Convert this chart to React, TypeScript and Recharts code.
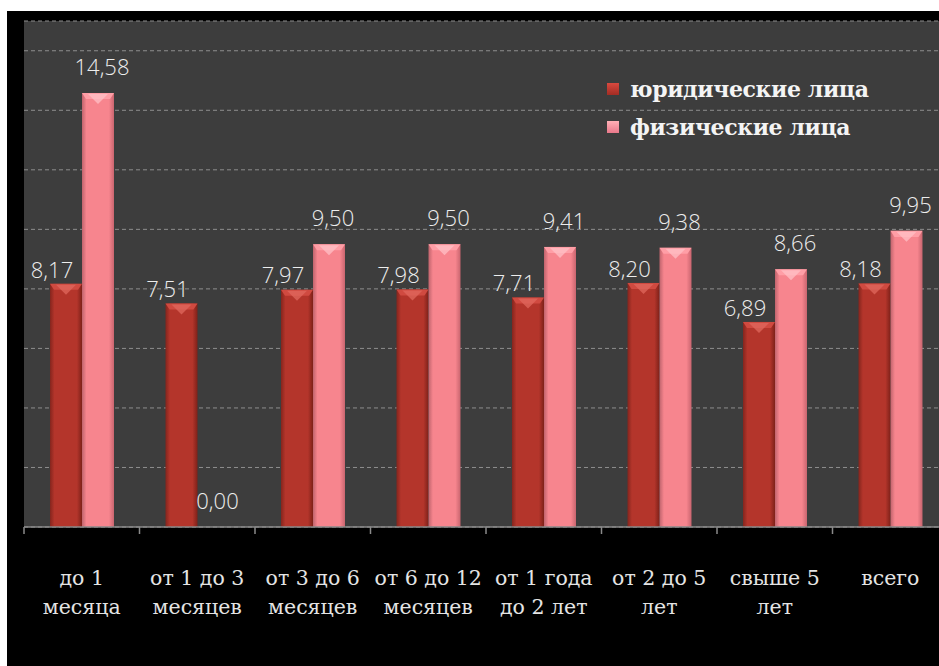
import React from 'react';
import { BarChart, Bar, XAxis, YAxis, CartesianGrid, LabelList, Legend } from 'recharts';

const categoryLine1 = ['до 1', 'от 1 до 3', 'от 3 до 6', 'от 6 до 12', 'от 1 года', 'от 2 до 5', 'свыше 5', 'всего'];
const categoryLine2 = ['месяца', 'месяцев', 'месяцев', 'месяцев', 'до 2 лет', 'лет', 'лет', ''];
const legalEntities = [8.17, 7.51, 7.97, 7.98, 7.71, 8.2, 6.89, 8.18];
const individuals = [14.58, 0.0, 9.5, 9.5, 9.41, 9.38, 8.66, 9.95];
const yTicks = [0, 2, 4, 6, 8, 10, 12, 14, 16];
const seriesNames = ['юридические лица', 'физические лица'];

const data = categoryLine1.map((c, i) => ({
  cat: c + ' ' + categoryLine2[i],
  legal: legalEntities[i],
  individual: individuals[i],
}));

const palettes: Record<string, { edgeL: string; mid: string; edgeR: string; cap: string; capMid: string }> = {
  legal: { edgeL: '#84251d', mid: '#b4352b', edgeR: '#7e2119', cap: '#d04a40', capMid: '#e0685e' },
  individual: { edgeL: '#c0646d', mid: '#f7858e', edgeR: '#c9656f', cap: '#ff9ea6', capMid: '#ffc0c5' },
};

const makeShape = (key: string) => (props: any) => {
  const { x, y, width, height } = props;
  if (!height || height <= 0) return null;
  const p = palettes[key];
  const id = 'grad-' + key;
  const cap = Math.min(11, height);
  return (
    <g>
      <defs>
        <linearGradient id={id} x1="0" y1="0" x2="1" y2="0">
          <stop offset="0%" stopColor={p.edgeL} />
          <stop offset="14%" stopColor={p.mid} />
          <stop offset="84%" stopColor={p.mid} />
          <stop offset="100%" stopColor={p.edgeR} />
        </linearGradient>
      </defs>
      <rect x={x} y={y} width={width} height={height} fill={`url(#${id})`} />
      <polygon
        points={`${x},${y} ${x + width},${y} ${x + width - 4},${y + cap * 0.55} ${x + 4},${y + cap * 0.55}`}
        fill={p.cap}
      />
      <polygon
        points={`${x + 6},${y + 1} ${x + width - 6},${y + 1} ${x + width / 2},${y + cap}`}
        fill={p.capMid}
        opacity={0.75}
      />
    </g>
  );
};

const fmt = (v: number) => v.toFixed(2).replace('.', ',');

const makeLabel = (dx: number, up: number) => (props: any) => {
  const { x, y, width, value } = props;
  return (
    <text
      x={x + width / 2 + dx}
      y={y - up}
      dy="0.35em"
      textAnchor="middle"
      fill="#ededed"
      fontFamily="'Open Sans', sans-serif"
      fontWeight={300}
      fontSize={22}
    >
      {fmt(value)}
    </text>
  );
};

const CategoryTick = (props: any) => {
  const { x, y, payload } = props;
  const i = payload.index;
  const half = payload.offset || 0;
  return (
    <g>
      <line x1={x - half} y1={y - 9} x2={x - half} y2={y - 2} stroke="#8a8a8a" strokeWidth={1.5} />
      <text
        x={x}
        y={y + 49}
        textAnchor="middle"
        fill="#e4e4e4"
        fontFamily="'DejaVu Serif', serif"
        fontSize={20.5}
      >
        {categoryLine1[i]}
      </text>
      <text
        x={x}
        y={y + 78}
        textAnchor="middle"
        fill="#e4e4e4"
        fontFamily="'DejaVu Serif', serif"
        fontSize={20.5}
      >
        {categoryLine2[i]}
      </text>
    </g>
  );
};

const LegendContent = () => {
  const markers = [
    { name: seriesNames[0], top: '#d9493f', bottom: '#a22c23' },
    { name: seriesNames[1], top: '#ffb0b6', bottom: '#e9788a' },
  ];
  return (
    <div>
      {markers.map((m) => (
        <div key={m.name} style={{ display: 'flex', alignItems: 'center', height: 38 }}>
          <div
            style={{
              width: 12,
              height: 12,
              background: `linear-gradient(${m.top}, ${m.bottom})`,
              marginRight: 11,
            }}
          />
          <span
            style={{
              color: '#f4f4f4',
              fontFamily: "'DejaVu Serif', serif",
              fontWeight: 'bold',
              fontSize: 22,
              letterSpacing: -0.4,
              whiteSpace: 'nowrap',
            }}
          >
            {m.name}
          </span>
        </div>
      ))}
    </div>
  );
};

export default function App() {
  return (
    <div
      style={{
        position: 'absolute',
        left: 0,
        top: 0,
        width: 939,
        height: 666,
        overflow: 'hidden',
        background: '#ffffff',
      }}
    >
      <div
        style={{
          position: 'absolute',
          left: 7,
          top: 11,
          width: 932,
          height: 655,
          overflow: 'hidden',
          background: '#000000',
        }}
      >
        <BarChart
          width={941}
          height={655}
          data={data}
          margin={{ top: 10, left: 17, right: 0, bottom: 39 }}
          barSize={32}
          barGap={0}
        >
          <CartesianGrid
            horizontal
            vertical={false}
            stroke="#8e8e8e"
            strokeDasharray="4 3"
            fill="#3d3d3d"
            fillOpacity={1}
          />
          <YAxis hide width={0} domain={[0, 17]} ticks={yTicks} />
          <XAxis
            dataKey="cat"
            height={100}
            interval={0}
            axisLine={{ stroke: '#8a8a8a', strokeWidth: 1.5 }}
            tickLine={false}
            tickSize={7}
            tick={<CategoryTick />}
          />
          <Legend
            layout="vertical"
            align="center"
            verticalAlign="middle"
            content={<LegendContent />}
            wrapperStyle={{ position: 'absolute', left: 600, top: 59, width: 300 }}
          />
          <Bar dataKey="legal" name={seriesNames[0]} isAnimationActive={false} shape={makeShape('legal')}>
            <LabelList dataKey="legal" content={makeLabel(-14, 14)} />
          </Bar>
          <Bar dataKey="individual" name={seriesNames[1]} isAnimationActive={false} shape={makeShape('individual')}>
            <LabelList dataKey="individual" content={makeLabel(4, 26)} />
          </Bar>
        </BarChart>
      </div>
    </div>
  );
}
